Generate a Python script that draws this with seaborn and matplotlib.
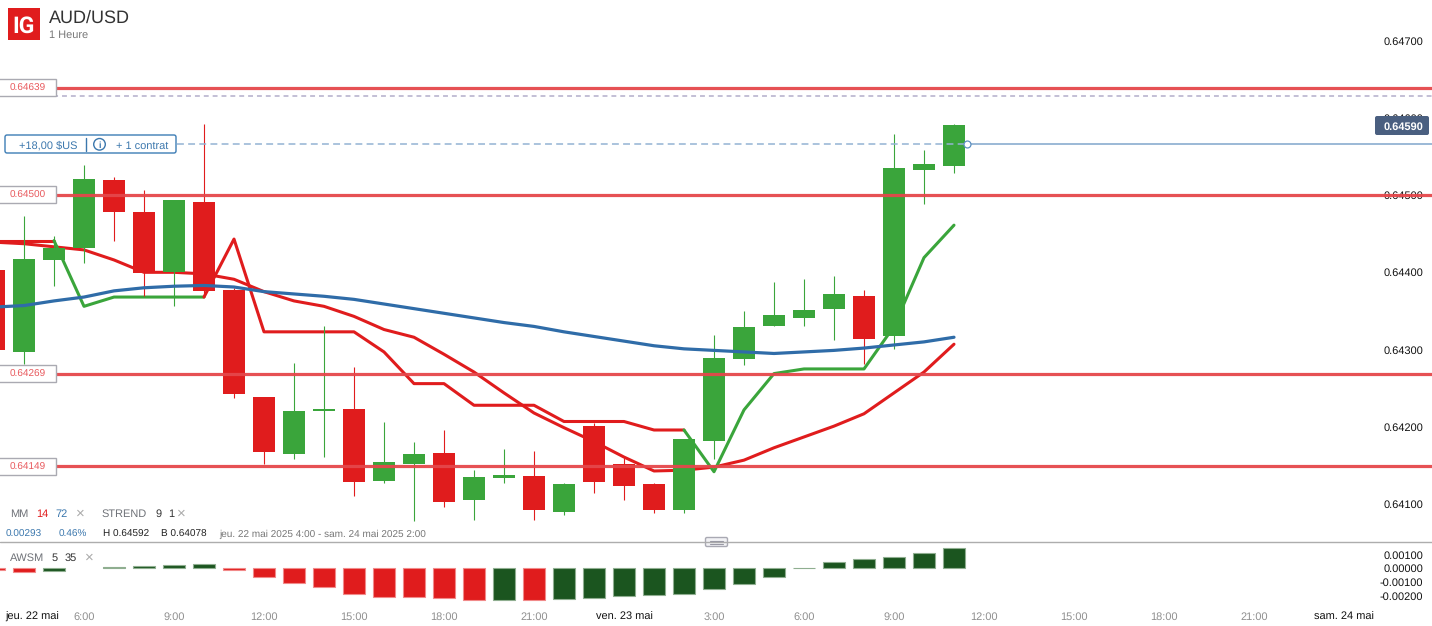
#!/usr/bin/env python3
# -*- coding: utf-8 -*-
"""AUD/USD 1h candles with MM, STREND and AWSM panels"""
import numpy as np
import pandas as pd
import matplotlib
matplotlib.use("Agg")
import matplotlib.pyplot as plt
import seaborn as sns
from matplotlib.patches import Rectangle, Circle, FancyBboxPatch

# hours counted from jeu. 22 mai 0:00
hours = list(range(3, 36))
opens = [0.64403, 0.64297, 0.64416, 0.64431, 0.64519, 0.64478, 0.64401, 0.64491, 0.64377, 0.64239, 0.64165,
         0.64221, 0.64223, 0.64130, 0.64152, 0.64166, 0.64105, 0.64134, 0.64136, 0.64090, 0.64201, 0.64152,
         0.64126, 0.64092, 0.64182, 0.64288, 0.64330, 0.64341, 0.64352, 0.64369, 0.64317, 0.64532, 0.64538]
closes = [0.64299, 0.64417, 0.64431, 0.64521, 0.64478, 0.64399, 0.64494, 0.64376, 0.64242, 0.64167, 0.64221,
          0.64223, 0.64129, 0.64155, 0.64165, 0.64103, 0.64135, 0.64138, 0.64093, 0.64126, 0.64129, 0.64123,
          0.64093, 0.64184, 0.64289, 0.64329, 0.64345, 0.64351, 0.64372, 0.64314, 0.64535, 0.64540, 0.64591]
highs = [0.64410, 0.64473, 0.64447, 0.64539, 0.64523, 0.64506, 0.64494, 0.64592, 0.64380, 0.64239, 0.64283,
         0.64330, 0.64277, 0.64206, 0.64180, 0.64196, 0.64144, 0.64171, 0.64169, 0.64128, 0.64205, 0.64160,
         0.64127, 0.64184, 0.64319, 0.64350, 0.64387, 0.64391, 0.64395, 0.64377, 0.64579, 0.64558, 0.64592]
lows = [0.64285, 0.64281, 0.64382, 0.64412, 0.64440, 0.64369, 0.64356, 0.64368, 0.64238, 0.64152, 0.64159,
        0.64161, 0.64111, 0.64128, 0.64078, 0.64097, 0.64080, 0.64128, 0.64080, 0.64086, 0.64115, 0.64106,
        0.64089, 0.64089, 0.64159, 0.64280, 0.64330, 0.64331, 0.64313, 0.64282, 0.64301, 0.64488, 0.64529]

mm14 = [0.64439, 0.64437, 0.64433, 0.64429, 0.64416, 0.64400, 0.64400, 0.64398, 0.64391, 0.64375, 0.64363,
        0.64356, 0.64343, 0.64326, 0.64316, 0.64294, 0.64271, 0.64244, 0.64218, 0.64199, 0.64181, 0.64161,
        0.64143, 0.64144, 0.64148, 0.64157, 0.64173, 0.64187, 0.64201, 0.64217, 0.64244, 0.64271, 0.64307]
mm72 = [0.64355, 0.64357, 0.64363, 0.64368, 0.64376, 0.64380, 0.64382, 0.64383, 0.64381, 0.64375, 0.64372,
        0.64369, 0.64365, 0.64359, 0.64353, 0.64347, 0.64341, 0.64335, 0.64330, 0.64323, 0.64317, 0.64311,
        0.64305, 0.64301, 0.64299, 0.64297, 0.64295, 0.64297, 0.64299, 0.64302, 0.64306, 0.64310, 0.64316]

# supertrend pieces, red above price, green below
strend_hours = [[3, 4, 5], [5, 6, 7, 8, 9, 10],
                [10, 11, 12, 13, 14, 15, 16, 17, 18, 19, 20, 21, 22, 23, 24, 25, 26],
                [26, 27, 28, 29, 30, 31, 32, 33, 34, 35]]
strend_values = [[0.64441, 0.64441, 0.64441],
                 [0.64441, 0.64356, 0.64368, 0.64368, 0.64368, 0.64368],
                 [0.64368, 0.64443, 0.64323, 0.64323, 0.64323, 0.64323, 0.64297, 0.64256, 0.64256, 0.64228,
                  0.64228, 0.64228, 0.64207, 0.64207, 0.64207, 0.64196, 0.64196],
                 [0.64196, 0.64142, 0.64222, 0.64269, 0.64275, 0.64275, 0.64275, 0.64330, 0.64419, 0.64461]]
strend_colors = ["red", "green", "red", "green"]

awsm = [-0.00015, -0.00027, -0.00022, np.nan, 0.00011, 0.00018, 0.00022, 0.00032, -0.00010, -0.00066, -0.00108,
        -0.00140, -0.00189, -0.00208, -0.00211, -0.00215, -0.00230, -0.00230, -0.00230, -0.00225, -0.00215,
        -0.00203, -0.00198, -0.00189, -0.00154, -0.00115, -0.00064, 0.00003, 0.00046, 0.00066, 0.00086,
        0.00115, 0.00149]
awsm_up = [0, 0, 1, 1, 1, 1, 1, 1, 0, 0, 0, 0, 0, 0, 0, 0, 0, 1, 0, 1, 1, 1, 1, 1, 1, 1, 1, 1, 1, 1, 1, 1, 1]

levels = [0.64639, 0.64500, 0.64269, 0.64149]
level_labels = ["0.64639", "0.64500", "0.64269", "0.64149"]
order_level = 0.64628
position_level = 0.64566
position_start = 9.1
position_end = 35.43
last_price = 0.64590

price_ticks = [0.647, 0.646, 0.645, 0.644, 0.643, 0.642, 0.641]
awsm_ticks = [0.001, 0.0, -0.001, -0.002]
time_ticks = [4.27, 6, 9, 12, 15, 18, 21, 24, 27, 30, 33, 36, 39, 42, 45, 48]
time_labels = ["jeu. 22 mai", "6:00", "9:00", "12:00", "15:00", "18:00", "21:00", "ven. 23 mai",
               "3:00", "6:00", "9:00", "12:00", "15:00", "18:00", "21:00", "sam. 24 mai"]

W, H = 1432, 626
RED = "#e01c1d"
GREEN = "#3aa53b"
DARK_GREEN = "#1b551f"
BLUE = "#2f6ca8"
LEVEL = "#e5474b"
TICK = "#8f8f8f"
FONT = "Liberation Sans"
BODY_WIDTH = 22 / 30

sns.set_theme(style="white")
plt.rcParams["font.family"] = [FONT, "DejaVu Sans"]
plt.rcParams["text.hinting"] = "no_hinting"
plt.rcParams["text.hinting_factor"] = 1

fig = plt.figure(figsize=(W / 100, H / 100), dpi=100, facecolor="white")
ax = fig.add_axes([0, (H - 541) / H, 1, 541 / H])
ax2 = fig.add_axes([0, 0, 1, (H - 541) / H])
top = fig.add_axes([0, 0, 1, 1], zorder=10)
top.patch.set_visible(False)
top.set_xlim(0, W)
top.set_ylim(H, 0)
top.axis("off")

df = pd.DataFrame({"hour": hours, "open": opens, "close": closes, "high": highs, "low": lows,
                   "mm14": mm14, "mm72": mm72})
df["body"] = df["close"] - df["open"]

# lines that sit under the candles
sns.lineplot(data=df, x="hour", y="mm14", color=RED, linewidth=2.2, errorbar=None, ax=ax, zorder=2)
for xs, ys, name in zip(strend_hours, strend_values, strend_colors):
    sns.lineplot(x=xs, y=ys, color=RED if name == "red" else GREEN, linewidth=2.2, errorbar=None, ax=ax, zorder=2)

# candles
for sub, colour in [(df[df.body >= 0], GREEN), (df[df.body < 0], RED)]:
    ax.vlines(sub["hour"] - 0.012, sub["low"], sub["high"], color=colour, linewidth=0.8, zorder=3)
    sns.barplot(data=sub, x="hour", y="body", bottom=sub["open"].to_numpy(), native_scale=True, orient="x",
                color=colour, saturation=1, width=BODY_WIDTH, gap=0, linewidth=0, errorbar=None, ax=ax, zorder=3)

sns.lineplot(data=df, x="hour", y="mm72", color=BLUE, linewidth=2.3, errorbar=None, ax=ax, zorder=4)

# order and position lines
ax.axhline(order_level, color="#b3adca", linewidth=1.1, linestyle=(0, (3.2, 2.6)), zorder=1)
ax.plot([position_start, position_end], [position_level, position_level], color="#93b3d3", linewidth=1.1,
        linestyle=(0, (4.5, 2.8)), zorder=5)
ax.plot([position_end, 60], [position_level, position_level], color="#93b3d3", linewidth=1.3, zorder=5)
ax.plot([position_end], [position_level], marker="o", markersize=5, markerfacecolor="white",
        markeredgecolor="#5c8fc0", markeredgewidth=0.9, zorder=6)

for level in levels:
    ax.axhline(level, color=LEVEL, linewidth=2.3, alpha=0.95, zorder=5)

ax.set_xlim(3.2, 3.2 + W / 30)
ax.set_ylim(0.640524, 0.647523)
ax.set_yticks(price_ticks)
ax.set_yticklabels(["%.5f" % t for t in price_ticks])
ax.yaxis.tick_right()
ax.tick_params(axis="y", length=0, pad=-6.5, labelsize=8, labelcolor="#111111")
for label in ax.get_yticklabels():
    label.set_ha("right")
    label.set_bbox(dict(facecolor="white", edgecolor="none", alpha=0.8, pad=0.6))
ax.set_xticks([])
ax.set_xlabel("")
ax.set_ylabel("")

# AWSM panel
awsm_df = pd.DataFrame({"hour": hours, "awsm": awsm, "up": awsm_up}).dropna()
for sub, colour, edge in [(awsm_df[awsm_df.up == 1], DARK_GREEN, "#8fae90"),
                          (awsm_df[awsm_df.up == 0], RED, "#f18a8a")]:
    sns.barplot(data=sub, x="hour", y="awsm", native_scale=True, orient="x", color=colour, saturation=1,
                width=BODY_WIDTH - 0.02, gap=0, linewidth=0.8, edgecolor=edge, errorbar=None, ax=ax2)
ax2.set_xlim(3.2, 3.2 + W / 30)
ax2.set_ylim(-0.004243, 0.002007)
ax2.set_yticks(awsm_ticks)
ax2.set_yticklabels(["%.5f" % t for t in awsm_ticks])
ax2.yaxis.tick_right()
ax2.tick_params(axis="y", length=0, pad=-6.5, labelsize=8, labelcolor="#111111")
for label in ax2.get_yticklabels():
    label.set_ha("right")
ax2.set_xticks(time_ticks)
ax2.set_xticklabels(time_labels)
ax2.tick_params(axis="x", length=0, pad=-10.2, labelsize=7.6, labelcolor=TICK)
for label in ax2.get_xticklabels():
    if "mai" in label.get_text():
        label.set_color("#111111")
ax2.set_xlabel("")
ax2.set_ylabel("")

for a in (ax, ax2):
    for spine in a.spines.values():
        spine.set_visible(False)
    a.patch.set_visible(False)


def txt(x, y, s, size=8, color="#111111", ha="left", **kw):
    top.text(x, y, s, fontsize=size, color=color, ha=ha, va="center_baseline", **kw)


# header
top.add_patch(Rectangle((8, 8), 32, 32, facecolor=RED, edgecolor="none"))
txt(24, 24, "IG", size=16.5, color="white", ha="center", family="Roboto", weight="bold")
txt(48.5, 16.5, "AUD/USD", size=12.8, color="#333333")
txt(49, 34, "1 Heure", size=7.7, color="#777777")

# level boxes on the left
for level_label, yc in zip(level_labels, [87.3, 194.5, 373.5, 466.5]):
    top.add_patch(Rectangle((-2, yc - 8.7), 57.5, 17.6, facecolor="white", edgecolor="#aaaab2", linewidth=1))
    txt(27.5, yc, level_label, size=7.2, color="#e8585c", ha="center")

# position box
top.add_patch(FancyBboxPatch((5, 135), 171, 18, boxstyle="round,pad=0,rounding_size=2",
                             facecolor="white", edgecolor="#3d7db5", linewidth=1))
txt(19, 145, "+18,00 $US", size=7.6, color="#3b77ad")
top.plot([85.5, 85.5], [138, 151], color="#3b77ad", linewidth=1)
top.add_patch(Circle((99.5, 144.3), 5.8, facecolor="white", edgecolor="#3b77ad", linewidth=1))
txt(99.5, 144.5, "i", size=6.5, color="#3b77ad", ha="center", weight="bold")
txt(116, 145, "+ 1 contrat", size=7.6, color="#3b77ad")

# last price flag
top.add_patch(FancyBboxPatch((1375, 116), 54, 19, boxstyle="round,pad=0,rounding_size=2",
                             facecolor="#4a5f80", edgecolor="none"))
txt(1403, 125.7, "%.5f" % last_price, size=8, color="white", ha="center", weight="bold")

# indicator legends
GREY = "#6f7278"
txt(10, 513, "MM", color=GREY)
txt(36, 513, "14", color=RED)
txt(55, 513, "72", color="#3b77ad")
txt(80, 512.5, "\u00d7", size=11, color="#aaaaaa", ha="center")
txt(102, 513, "STREND", color=GREY)
txt(155, 513, "9", color="#333333")
txt(168, 513, "1", color="#333333")
txt(181, 512.5, "\u00d7", size=11, color="#aaaaaa", ha="center")

txt(5.5, 533, "0.00293", size=7.2, color="#3b77ad")
txt(59, 533, "0.46%", size=7.2, color="#3b77ad")
txt(103, 533, "H 0.64592", size=7.2, color="#222222")
txt(161, 533, "B 0.64078", size=7.2, color="#222222")
txt(219, 533, "jeu. 22 mai 2025 4:00 - sam. 24 mai 2025 2:00", size=7.2, color="#777777")

txt(10, 557, "AWSM", color=GREY)
txt(52, 557, "5", color="#333333")
txt(65, 557, "35", color="#333333")
txt(89, 556.5, "\u00d7", size=11, color="#aaaaaa", ha="center")

# panel divider and grip
top.plot([0, W], [541.5, 541.5], color="#adadad", linewidth=1)
top.add_patch(FancyBboxPatch((705.5, 537.5), 22, 9, boxstyle="round,pad=0,rounding_size=1.5",
                             facecolor="#f2f2f5", edgecolor="#a9a9b3", linewidth=1))
top.plot([710, 723], [540.5, 540.5], color="#9a9aa5", linewidth=0.8)
top.plot([710, 723], [543.5, 543.5], color="#9a9aa5", linewidth=0.8)

fig.savefig("out.png", dpi=100, facecolor="white")
